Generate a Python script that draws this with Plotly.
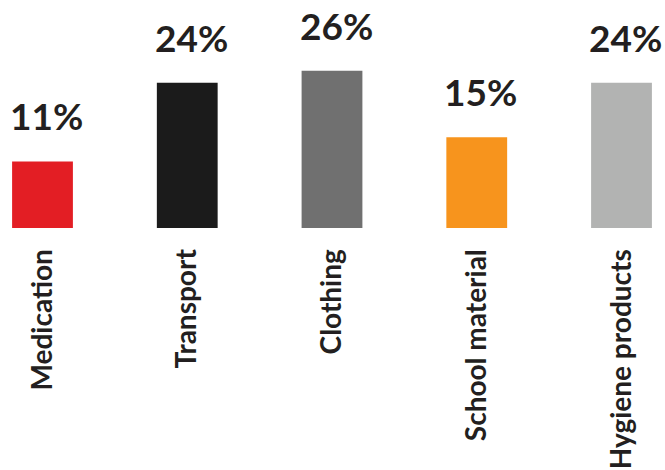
import plotly.graph_objects as go

categories = ["Medication", "Transport", "Clothing", "School material", "Hygiene products"]
values = [11, 24, 26, 15, 24]
value_labels = ["11%", "24%", "26%", "15%", "24%"]
colors = ["#e31e24", "#1b1b1b", "#707070", "#f7941d", "#b2b3b2"]

fig = go.Figure()
fig.add_trace(go.Bar(
    x=categories, y=values, marker=dict(color=colors, line=dict(width=0)),
    width=0.42, hoverinfo="skip",
))
for c, v, t in zip(categories, values, value_labels):
    fig.add_annotation(x=c, y=v, text=t, showarrow=False, yanchor="bottom",
                       yshift=21, xshift=4,
                       font=dict(family="Lato", size=37, color="#231f20", weight="bold"))

fig.update_layout(
    width=665, height=470,
    margin=dict(l=0, r=0, t=0, b=242, autoexpand=False),
    paper_bgcolor="white", plot_bgcolor="white",
    showlegend=False,
    font=dict(family="Lato", color="#231f20"),
    xaxis=dict(range=[-0.2936, 4.3005], tickangle=-90, showgrid=False, showline=False,
               zeroline=False, ticks="outside", ticklen=9, tickcolor="rgba(0,0,0,0)",
               automargin=False,
               tickfont=dict(family="Lato", size=28, color="#231f20", weight="bold"), fixedrange=True),
    yaxis=dict(range=[0, 37.7], visible=False, fixedrange=True, automargin=False),
)
fig.write_html("out.html", config={"displayModeBar": False},
               post_script="document.body.style.margin='0';document.body.style.overflow='hidden';")
